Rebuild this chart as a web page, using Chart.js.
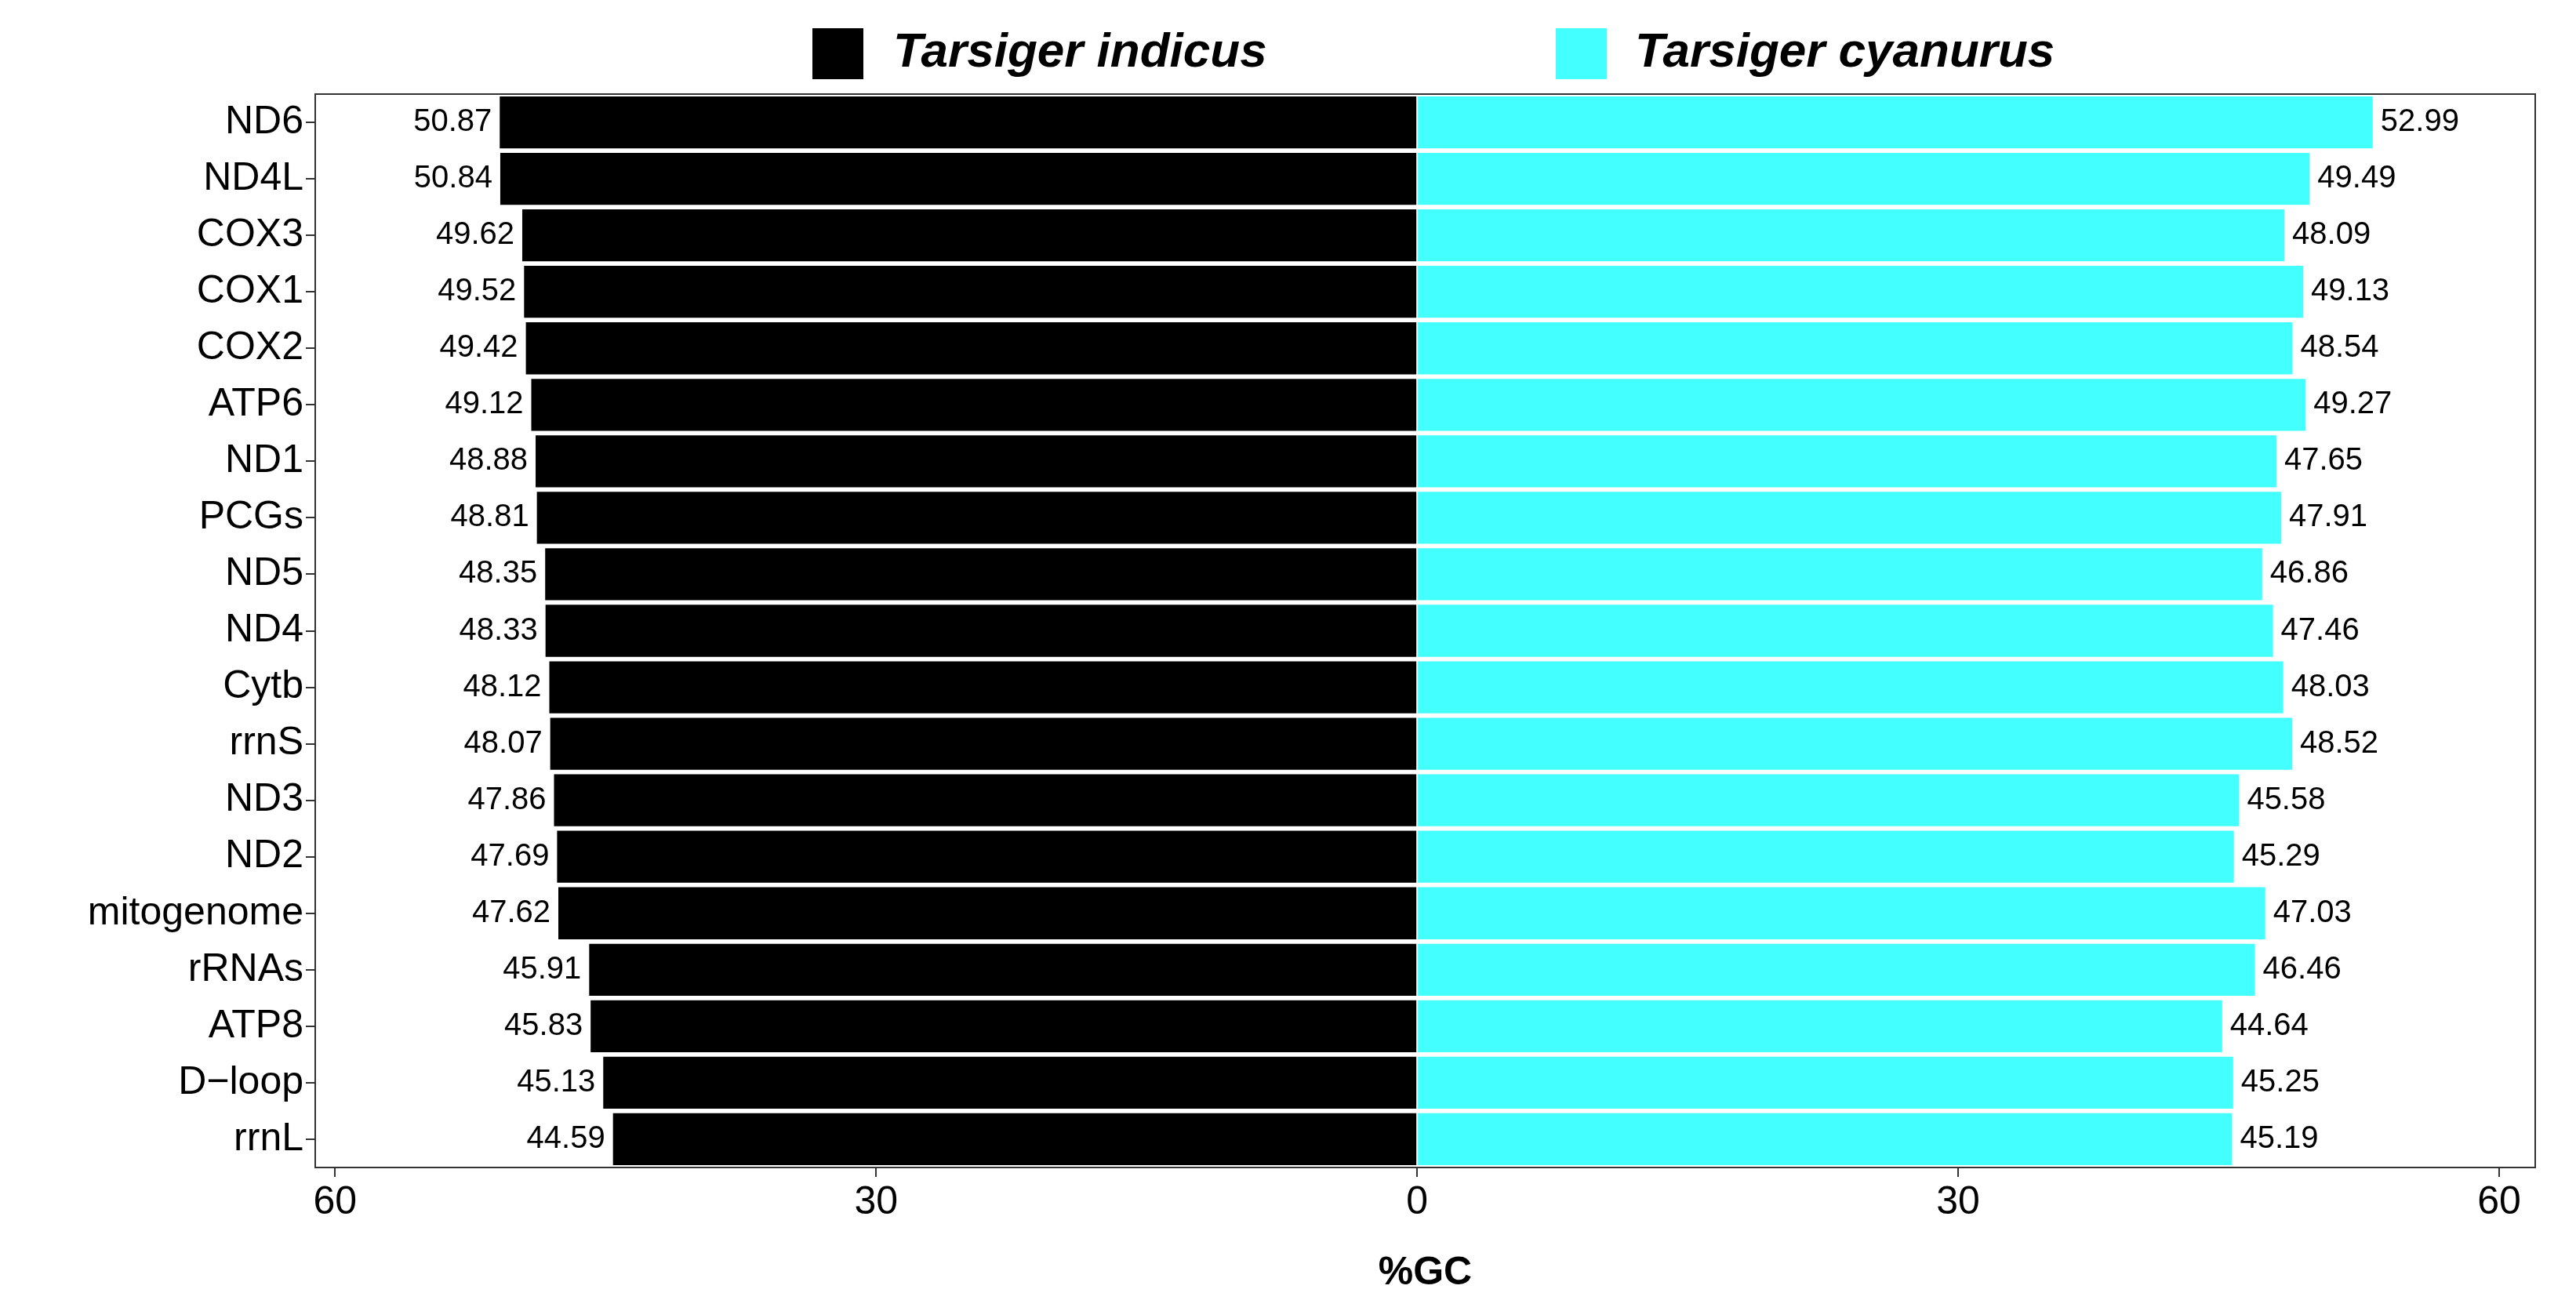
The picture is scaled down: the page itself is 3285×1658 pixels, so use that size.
<!DOCTYPE html>
<html>
<head>
<meta charset="utf-8">
<script src="https://cdn.jsdelivr.net/npm/chart.js@4"></script>
<style>body{margin:0;background:#fff}canvas{display:block}</style>
</head>
<body>
<canvas id="gcChart" width="3285" height="1658"></canvas>
<script>
var genes = ["ND6", "ND4L", "COX3", "COX1", "COX2", "ATP6", "ND1", "PCGs", "ND5", "ND4",
  "Cytb", "rrnS", "ND3", "ND2", "mitogenome", "rRNAs", "ATP8", "D\u2212loop", "rrnL"];
var indicus = [50.87, 50.84, 49.62, 49.52, 49.42, 49.12, 48.88, 48.81, 48.35, 48.33,
  48.12, 48.07, 47.86, 47.69, 47.62, 45.91, 45.83, 45.13, 44.59];
var cyanurus = [52.99, 49.49, 48.09, 49.13, 48.54, 49.27, 47.65, 47.91, 46.86, 47.46,
  48.03, 48.52, 45.58, 45.29, 47.03, 46.46, 44.64, 45.25, 45.19];
var x_ticks = [-60, -30, 0, 30, 60];
var series_names = ["Tarsiger indicus", "Tarsiger cyanurus"];
var series_colors = ["#000000", "#44FFFF"];

var font_family = "'Liberation Sans', Arial, sans-serif";

var extras = {
  id: "extras",
  afterDatasetsDraw(chart) {
    const ctx = chart.ctx;
    const a = chart.chartArea;
    ctx.save();
    ctx.strokeStyle = "#333";
    ctx.lineWidth = 2;
    ctx.strokeRect(a.left, a.top, a.right - a.left, a.bottom - a.top);
    ctx.font = "40px " + font_family;
    ctx.fillStyle = "#000";
    ctx.textBaseline = "middle";
    chart.data.datasets.forEach((ds, di) => {
      chart.getDatasetMeta(di).data.forEach((bar, i) => {
        const v = Math.abs(ds.data[i]).toFixed(2);
        if (di === 0) {
          ctx.textAlign = "right";
          ctx.fillText(v, bar.x - 10, bar.y);
        } else {
          ctx.textAlign = "left";
          ctx.fillText(v, bar.x + 10, bar.y);
        }
      });
    });
    // legend
    const items = [[1036, 1139], [1984, 2085]];
    ctx.font = "bold italic 62px " + font_family;
    ctx.textAlign = "left";
    items.forEach((it, k) => {
      ctx.fillStyle = series_colors[k];
      ctx.fillRect(it[0], 36, 65, 65);
      ctx.fillStyle = "#000";
      ctx.fillText(series_names[k], it[1], 68);
    });
    ctx.restore();
  },
};

var ctx = document.getElementById("gcChart").getContext("2d");
var gcChart = new Chart(ctx, {
  type: "bar",
  data: {
    labels: genes,
    datasets: [
      { label: series_names[0], data: indicus.map((v) => -v), backgroundColor: series_colors[0] },
      { label: series_names[1], data: cyanurus, backgroundColor: series_colors[1] },
    ],
  },
  options: {
    indexAxis: "y",
    responsive: false,
    devicePixelRatio: 1,
    animation: false,
    layout: { padding: { top: 120, right: 52 } },
    datasets: { bar: { categoryPercentage: 0.92, barPercentage: 1.0 } },
    plugins: { legend: { display: false }, tooltip: { enabled: false } },
    scales: {
      x: {
        min: -61.1,
        max: 62,
        afterBuildTicks: (axis) => { axis.ticks = x_ticks.map((v) => ({ value: v })); },
        afterFit: (axis) => { axis.height = 169; },
        grid: { drawOnChartArea: false, color: "#333", tickLength: 12, lineWidth: 2 },
        border: { display: false },
        ticks: {
          color: "#000",
          font: { size: 50, family: font_family },
          callback: (v) => Math.abs(v),
          maxRotation: 0,
        },
        title: {
          display: true,
          text: "%GC",
          color: "#000",
          font: { size: 50, weight: "bold", family: font_family },
          padding: { top: 0 },
        },
      },
      y: {
        stacked: true,
        afterFit: (axis) => { axis.width = 402; },
        grid: { drawOnChartArea: false, color: "#333", tickLength: 12, lineWidth: 2, offset: false },
        border: { display: false },
        ticks: { color: "#000", font: { size: 50, family: font_family } },
      },
    },
  },
  plugins: [extras],
});
</script>
</body>
</html>
